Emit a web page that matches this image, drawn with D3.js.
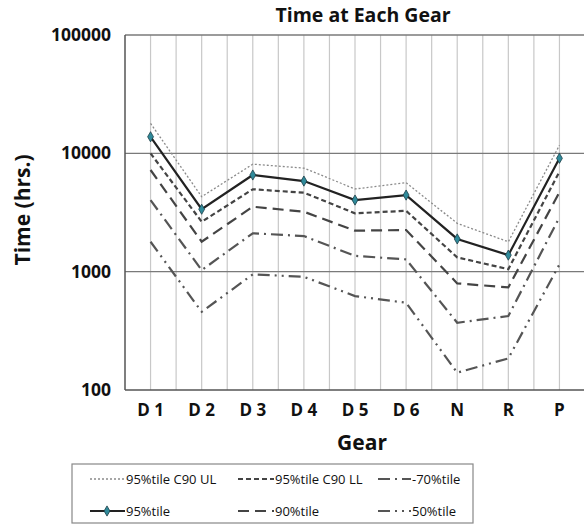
<!DOCTYPE html>
<html>
<head>
<meta charset="UTF-8">
<title>Time at Each Gear</title>
<script src="https://cdn.jsdelivr.net/npm/d3@7"></script>
<style>
  body { margin: 0; background: #fff; }
  svg text { font-family: "Open Sans", "Noto Sans", sans-serif; fill: #111; }
</style>
</head>
<body>
<svg id="chart" width="584" height="524"></svg>
<script>
// gear categories and percentile series (hours)
const gears = ["D 1", "D 2", "D 3", "D 4", "D 5", "D 6", "N", "R", "P"];
const p95UL = [17900, 4300, 8100, 7500, 5000, 5650, 2560, 1790, 11700];
const p95LL = [10000, 2640, 4970, 4650, 3110, 3270, 1320, 1050, 7000];
const p70 = [4030, 1030, 2110, 2000, 1360, 1270, 370, 422, 2880];
const p95 = [13800, 3370, 6560, 5830, 4030, 4440, 1890, 1380, 9080];
const p90 = [7230, 1790, 3540, 3210, 2220, 2250, 796, 736, 4700];
const p50 = [1790, 458, 949, 905, 622, 546, 140, 185, 1150];
const yTicks = [100, 1000, 10000, 100000];

const series = [
  { name: "95%tile C90 UL", values: p95UL, stroke: "#8a8a8a", width: 1.3, dash: "2,2" },
  { name: "95%tile C90 LL", values: p95LL, stroke: "#444", width: 2.2, dash: "5,3" },
  { name: "-70%tile", values: p70, stroke: "#555", width: 2.2, dash: "12,5,2,5" },
  { name: "95%tile", values: p95, stroke: "#222", width: 2.2, dash: null, marker: true },
  { name: "90%tile", values: p90, stroke: "#444", width: 2.2, dash: "11,6" },
  { name: "50%tile", values: p50, stroke: "#555", width: 2.2, dash: "12,5,2,5,2,5" }
];

const svg = d3.select("#chart");
const plot = { left: 125, top: 35, right: 585, bottom: 390 };

const x = d3.scaleBand().domain(gears).range([plot.left, plot.right]);
const y = d3.scaleLog().domain([100, 100000]).range([plot.bottom, plot.top]);
const cx = g => x(g) + x.bandwidth() / 2;

// vertical gridlines at band edges and centres
const vLines = [];
gears.forEach(g => { vLines.push(x(g) + x.bandwidth() / 2); vLines.push(x(g) + x.bandwidth()); });
svg.append("g").selectAll("line").data(vLines).join("line")
  .attr("x1", d => d).attr("x2", d => d)
  .attr("y1", plot.top).attr("y2", plot.bottom)
  .attr("stroke", "#c8c8c8").attr("stroke-width", 1.2);

// horizontal gridlines
svg.append("g").selectAll("line").data(yTicks.slice(1)).join("line")
  .attr("x1", plot.left).attr("x2", plot.right)
  .attr("y1", d => y(d)).attr("y2", d => y(d))
  .attr("stroke", "#7a7a7a").attr("stroke-width", 1.3);

// axes frame
svg.append("line").attr("x1", plot.left).attr("x2", plot.left)
  .attr("y1", plot.top).attr("y2", plot.bottom).attr("stroke", "#555").attr("stroke-width", 1.5);
svg.append("line").attr("x1", plot.left).attr("x2", plot.right)
  .attr("y1", plot.bottom).attr("y2", plot.bottom).attr("stroke", "#555").attr("stroke-width", 1.5);

// y tick labels
svg.append("g").selectAll("text").data(yTicks).join("text")
  .attr("x", 111).attr("y", d => y(d)).attr("dy", "0.35em")
  .attr("text-anchor", "end").attr("font-size", 17.5).attr("font-weight", "bold")
  .text(d => d);

// x tick labels
svg.append("g").selectAll("text").data(gears).join("text")
  .attr("x", cx).attr("y", 410).attr("dy", "0.35em")
  .attr("text-anchor", "middle").attr("font-size", 17).attr("font-weight", "bold")
  .text(d => d);

// lines
const line = d3.line().x((d, i) => cx(gears[i])).y(d => y(d));
series.forEach(s => {
  svg.append("path").datum(s.values)
    .attr("d", line).attr("fill", "none")
    .attr("stroke", s.stroke).attr("stroke-width", s.width)
    .attr("stroke-dasharray", s.dash);
});

// diamond markers on 95%tile
const diamond = d3.symbol().type(d3.symbolDiamond).size(30);
svg.append("g").selectAll("path").data(p95).join("path")
  .attr("d", diamond)
  .attr("transform", (d, i) => `translate(${cx(gears[i])},${y(d)})`)
  .attr("fill", "#2f8a9a").attr("stroke", "#1d3f47").attr("stroke-width", 0.8);

// titles
svg.append("text").attr("x", 363).attr("y", 15).attr("dy", "0.35em")
  .attr("text-anchor", "middle").attr("font-size", 19.5).attr("font-weight", "bold")
  .text("Time at Each Gear");
svg.append("text").attr("transform", "translate(23,210) rotate(-90)").attr("dy", "0.35em")
  .attr("text-anchor", "middle").attr("font-size", 21).attr("font-weight", "bold")
  .text("Time (hrs.)");
svg.append("text").attr("x", 362).attr("y", 443).attr("dy", "0.35em")
  .attr("text-anchor", "middle").attr("font-size", 21).attr("font-weight", "bold")
  .text("Gear");

// legend
svg.append("rect").attr("x", 72).attr("y", 464).attr("width", 401).attr("height", 59)
  .attr("fill", "#fff").attr("stroke", "#888").attr("stroke-width", 1.2);
const legendPos = [
  { x: 90, y: 479, len: 35 }, { x: 238, y: 479, len: 36 }, { x: 378, y: 479, len: 33 },
  { x: 90, y: 511, len: 35 }, { x: 238, y: 511, len: 36 }, { x: 378, y: 511, len: 33 }
];
const legend = svg.append("g").selectAll("g").data(series).join("g")
  .attr("transform", (d, i) => `translate(${legendPos[i].x},${legendPos[i].y})`);
legend.append("line")
  .attr("x1", 0).attr("x2", (d, i) => legendPos[i].len)
  .attr("stroke", d => d.stroke).attr("stroke-width", d => d.width)
  .attr("stroke-dasharray", d => d.dash);
legend.filter(d => d.marker).append("path")
  .attr("d", diamond).attr("transform", "translate(17,0)")
  .attr("fill", "#2f8a9a").attr("stroke", "#1d3f47").attr("stroke-width", 0.8);
legend.append("text")
  .attr("x", (d, i) => legendPos[i].len + 1).attr("dy", "0.35em")
  .attr("font-size", 13)
  .text(d => d.name);
</script>
</body>
</html>
